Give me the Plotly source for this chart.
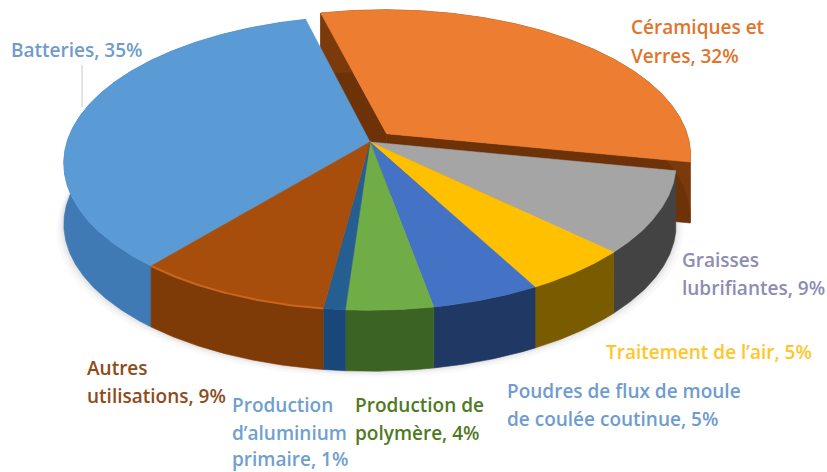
import numpy as np
import plotly.graph_objects as go

# ---- data
categories = ["Batteries", "Céramiques et Verres", "Graisses lubrifiantes", "Traitement de l'air",
              "Poudres de flux de moule de coulée coutinue", "Production de polymère",
              "Production d'aluminium primaire", "Autres utilisations"]
values = [35, 32, 9, 5, 5, 4, 1, 9]
top_colors = ["#5B9BD5", "#ED7D31", "#A5A5A5", "#FFC000", "#4472C4", "#70AD47", "#255E91", "#A84E0C"]
side_colors = ["#3F7AB4", "#7A3A0C", "#434343", "#7A5C00", "#1F3864", "#3B6324", "#1A477A", "#7E3B08"]
rim_colors = [None, None, None, None, None, None, None, "#C8651E"]
exploded = [0, 0.08, 0, 0, 0, 0, 0, 0]

# ---- projection of the tilted disc on the page
CX, CY, RX, RY, PERSP, THICK, START = 370, 142, 303, 144, 0.144, 61, -14 + 234


def project(u, v):
    w = 1 + PERSP * v
    return CX + RX * u / w, CY - RY * v / w


def slice_geometry(i):
    total = sum(values)
    a0 = START + 360 * sum(values[:i]) / total
    a1 = a0 + 360 * values[i] / total
    mid = np.radians((a0 + a1) / 2)
    ou, ov = exploded[i] * np.sin(mid), exploded[i] * np.cos(mid)
    th = np.radians(np.linspace(a0, a1, max(int(a1 - a0) * 2, 6)))
    rx, ry = project(ou + np.sin(th), ov + np.cos(th))
    tx, ty = project(np.array([ou]), np.array([ov]))
    return rx, ry, tx, ty


def poly(fig, xs, ys, color, name, opacity=1.0):
    fig.add_trace(go.Scatter(x=np.r_[xs, xs[0]], y=np.r_[ys, ys[0]], mode="lines", fill="toself",
                             fillcolor=color, line=dict(color=color, width=0.6), opacity=opacity,
                             name=name, hoverinfo="name", showlegend=False))


fig = go.Figure()

# soft shadow under the disc
th_all = np.radians(np.linspace(0, 360, 361))
sx, sy = project(np.sin(th_all), np.cos(th_all))
for grow, op in [(7, 0.04), (4, 0.06), (2, 0.08)]:
    poly(fig, CX + (sx - CX) * (1 + grow / 310), sy + THICK + grow * 0.8, "#808080", "ombre", op)

# thin grey leader of the Batteries label
fig.add_trace(go.Scatter(x=[82, 82], y=[65, 107], mode="lines", line=dict(color="#C9C9C9", width=1),
                         hoverinfo="skip", showlegend=False))

# exploded slice walls first, then the walls of the rest, then tops
order = [1] + [i for i in range(len(values)) if i != 1]
for i in order:
    rx, ry, tx, ty = slice_geometry(i)
    name = categories[i]
    if exploded[i]:
        poly(fig, np.r_[tx, rx[0], rx[0], tx], np.r_[ty, ry[0], ry[0] + THICK, ty + THICK], "#6E3208", name)
        poly(fig, np.r_[tx, rx[-1], rx[-1], tx], np.r_[ty, ry[-1], ry[-1] + THICK, ty + THICK], "#6E3208", name)
    poly(fig, np.r_[rx, rx[::-1]], np.r_[ry, ry[::-1] + THICK], side_colors[i], name)
for i in order[1:] + [1]:
    rx, ry, tx, ty = slice_geometry(i)
    poly(fig, np.r_[tx, rx], np.r_[ty, ry], top_colors[i], categories[i])
    if rim_colors[i]:
        fig.add_trace(go.Scatter(x=rx, y=ry, mode="lines", line=dict(color=rim_colors[i], width=2),
                                 hoverinfo="skip", showlegend=False))

# ---- labels
label_font = "Open Sans"
labels = [
    (9, 50, "Batteries, 35%", "#6F9CC8"),
    (629, 27, "Céramiques et", "#E0742B"),
    (629, 56, "Verres, 32%", "#E0742B"),
    (680, 260, "Graisses", "#8C8CB4"),
    (680, 288, "lubrifiantes, 9%", "#8C8CB4"),
    (604, 352, "Traitement de l’air, 5%", "#FFC62A"),
    (505, 391, "Poudres de flux de moule", "#6F9CD0"),
    (505, 419, "de coulée coutinue, 5%", "#6F9CD0"),
    (353, 405, "Production de", "#4F7A1E"),
    (353, 433, "polymère, 4%", "#4F7A1E"),
    (230, 405, "Production", "#6FA0D0"),
    (230, 433, "d’aluminium", "#6FA0D0"),
    (230, 459, "primaire, 1%", "#6FA0D0"),
    (85, 368, "Autres", "#8F4A1A"),
    (85, 396, "utilisations, 9%", "#8F4A1A"),
]
for x, y, text, color in labels:
    fig.add_annotation(x=x, y=y, text=text, showarrow=False, xanchor="left", yanchor="middle",
                       font=dict(family=label_font, size=19, color=color, weight=600))

fig.update_layout(
    width=827, height=472, margin=dict(l=0, r=0, t=0, b=0), showlegend=False,
    paper_bgcolor="white", plot_bgcolor="white",
    xaxis=dict(range=[0, 827], visible=False, fixedrange=True),
    yaxis=dict(range=[472, 0], visible=False, fixedrange=True),
)
fig.write_html("out.html", config={"displayModeBar": False},
               post_script="document.body.style.margin='0';")
